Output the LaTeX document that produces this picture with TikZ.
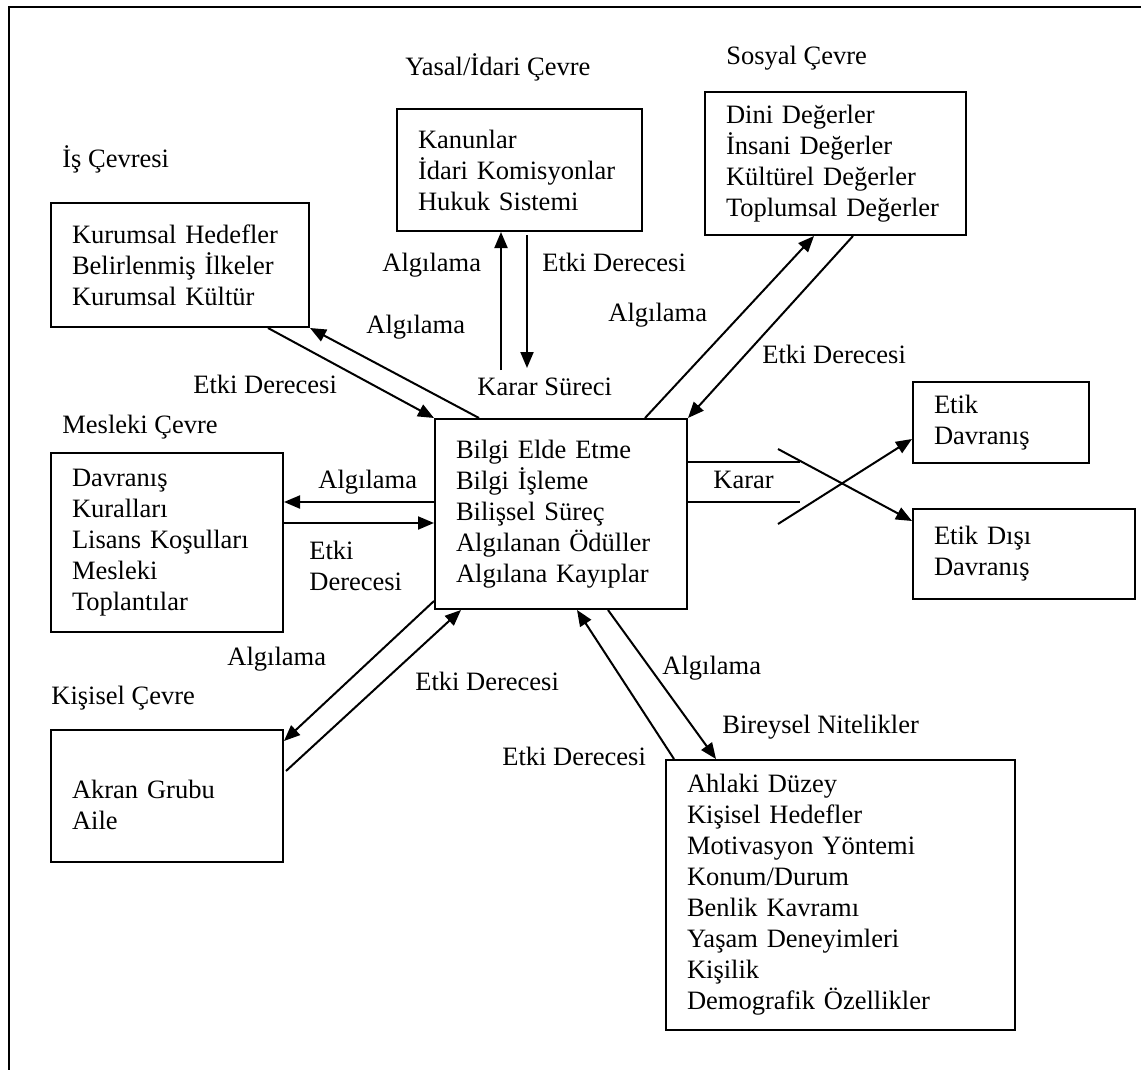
\documentclass[tikz,border=0pt]{standalone}
\usepackage{fontspec}
\setmainfont{Liberation Serif}
\usetikzlibrary{arrows.meta,calc}
\begin{document}
\begin{tikzpicture}[x=0.5pt,y=-0.5pt,
  every node/.style={font=\fontsize{13.25}{15.5}\selectfont},
  box/.style={draw,line width=1pt,align=left,inner xsep=10.5pt,inner ysep=0pt,anchor=center},
  lbl/.style={anchor=base west,inner sep=0pt},
  link/.style={line width=1pt,-{Triangle[length=8pt,width=6.5pt]}},
  bare/.style={line width=1pt}]
\useasboundingbox (0,0) rectangle (1141,1070);
% frame
\draw[line width=1.2pt] (9,1070) -- (9,7) -- (1141,7);

% boxes
\node[box,minimum width=129pt,minimum height=62pt,text width=108pt] (is) at (180,265)
  {Kurumsal Hedefler\\Belirlenmiş İlkeler\\Kurumsal Kültür};
\node[box,minimum width=122.5pt,minimum height=61pt,text width=101.5pt] (yasal) at (519.5,170)
  {Kanunlar\\İdari Komisyonlar\\Hukuk Sistemi};
\node[box,minimum width=130.5pt,minimum height=71.5pt,text width=109.5pt] (sosyal) at (835.5,163.5)
  {Dini Değerler\\İnsani Değerler\\Kültürel Değerler\\Toplumsal Değerler};
\node[box,minimum width=116pt,minimum height=89.5pt,text width=95pt] (meslek) at (167,542.5)
  {Davranış\\Kuralları\\Lisans Koşulları\\Mesleki\\Toplantılar};
\node[box,minimum width=116pt,minimum height=66pt,text width=95pt] (kisisel) at (167,796)
  {\rule{0pt}{18pt}Akran Grubu\\Aile};
\node[box,minimum width=126pt,minimum height=95pt,text width=105pt] (merkez) at (561,514)
  {Bilgi Elde Etme\\Bilgi İşleme\\Bilişsel Süreç\\Algılanan Ödüller\\Algılana Kayıplar};
\node[box,minimum width=88pt,minimum height=40.5pt,text width=67pt] (etik) at (1001,422.5)
  {Etik\\Davranış};
\node[box,minimum width=111pt,minimum height=45pt,text width=90pt] (etikdisi) at (1024,554)
  {Etik Dışı\\Davranış};
\node[box,minimum width=174.5pt,minimum height=135pt,text width=153.5pt] (bireysel) at (840.5,895)
  {Ahlaki Düzey\\Kişisel Hedefler\\Motivasyon Yöntemi\\Konum/Durum\\Benlik Kavramı\\Yaşam Deneyimleri\\Kişilik\\Demografik Özellikler};

% headings
\node[lbl] (tIs) at (62,168) {İş Çevresi};
\node[lbl] (tYasal) at (405,76) {Yasal/İdari Çevre};
\node[lbl] (tSosyal) at (726,65) {Sosyal Çevre};
\node[lbl] (tMeslek) at (62,433) {Mesleki Çevre};
\node[lbl] (tKisisel) at (51,704) {Kişisel Çevre};
\node[lbl] (tBireysel) at (722,733) {Bireysel Nitelikler};

% connector labels
\node[lbl] (aYasal) at (382,271) {Algılama};
\node[lbl] (eYasal) at (542,271) {Etki Derecesi};
\node[lbl] (karar) at (477,395) {Karar Süreci};
\node[lbl] (aIs) at (366,333) {Algılama};
\node[lbl] (eIs) at (193,393) {Etki Derecesi};
\node[lbl] (aSosyal) at (608,321) {Algılama};
\node[lbl] (eSosyal) at (762,363) {Etki Derecesi};
\node[lbl] (aMeslek) at (318,488) {Algılama};
\node[anchor=west,inner sep=0pt,align=left] (eMeslek) at (309,566) {Etki\\Derecesi};
\node[lbl] (kararR) at (713,488) {Karar};
\node[lbl] (aKisisel) at (227,665) {Algılama};
\node[lbl] (eKisisel) at (415,690) {Etki Derecesi};
\node[lbl] (aBireysel) at (662,674) {Algılama};
\node[lbl] (eBireysel) at (502,765) {Etki Derecesi};

% free ends
\coordinate (kup) at (501,370);
\coordinate (kdown) at (527,368);
\coordinate (x1) at (778,449);
\coordinate (x2) at (778,524);

% business environment
\draw[link] ($(merkez.north west)+(45,0)$) -- (is.south east);
\draw[link] ($(is.south east)+(-42,0)$) -- (merkez.north west);
% legal environment
\draw[link] (kup) -- (kup |- yasal.south);
\draw[link] ($(kdown |- yasal.south)+(0,3)$) -- (kdown);
% social environment
\draw[link] ($(merkez.north west)+(211,0)$) -- ($(sosyal.south west)+(110,0)$);
\draw[link] ($(sosyal.south west)+(149,0)$) -- (merkez.north east);
% professional environment
\draw[link] ($(merkez.north west)+(0,84)$) -- ($(meslek.north east)+(0,50)$);
\draw[link] ($(meslek.north east)+(0,71)$) -- ($(merkez.north west)+(0,105)$);
% personal environment
\draw[link] ($(merkez.south west)+(0,-9)$) -- ($(kisisel.north east)+(0,12)$);
\draw[link] ($(kisisel.north east)+(2,42)$) -- ($(merkez.south west)+(27,0)$);
% individual attributes
\draw[link] ($(merkez.south west)+(174,0)$) -- ($(bireysel.north west)+(51,0)$);
\draw[link] ($(bireysel.north west)+(9,0)$) -- ($(merkez.south west)+(143,0)$);
% decision
\draw[bare] ($(merkez.north east)+(0,44)$) -- ++(112,0);
\draw[bare] ($(merkez.north east)+(0,84)$) -- ++(112,0);
\draw[link] (x1) -- ($(etikdisi.north west)+(0,13)$);
\draw[link] (x2) -- ($(etik.south west)+(0,-25)$);
\end{tikzpicture}
\end{document}
